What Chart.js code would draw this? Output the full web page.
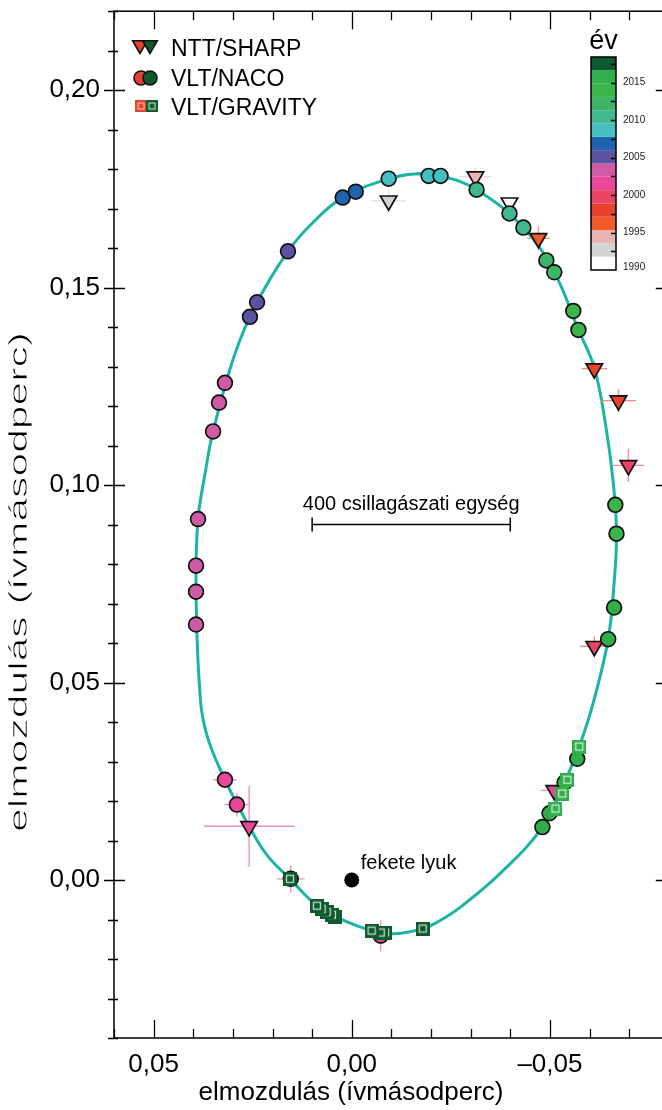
<!DOCTYPE html>
<html lang="hu">
<head>
<meta charset="utf-8">
<title>Az S2 csillag pályája</title>
<script src="https://cdn.jsdelivr.net/npm/chart.js@4.4.1/dist/chart.umd.min.js"></script>
<style>
    html, body { margin: 0; padding: 0; background: #fff; overflow: hidden; }
    canvas { display: block; }
</style>
</head>
<body>
<canvas id="palyaGrafikon" width="680" height="1110"></canvas>
<script>
// Illesztett pálya, a képről leolvasott pontok (ívmásodperc)
const orbitX = [-0.0224, -0.0159, -0.0093, 0.0023, 0.0098, 0.0161, 0.0239, 0.0295, 0.0350, 0.0370, 0.0388, 0.0393, 0.0385, 0.0368, 0.0320, 0.0259, 0.0214, 0.0156, 0.0088, 0.0035, -0.0050, -0.0108, -0.0179, -0.0222, -0.0275, -0.0378, -0.0481, -0.0537, -0.0574, -0.0610, -0.0647, -0.0662, -0.0668, -0.0660, -0.0640, -0.0612, -0.0572, -0.0511, -0.0433, -0.0315, -0.0224, -0.0159, -0.0093];
const orbitY = [0.1783, 0.1788, 0.1776, 0.1728, 0.1665, 0.1592, 0.1463, 0.1332, 0.1136, 0.1030, 0.0914, 0.0753, 0.0501, 0.0375, 0.0254, 0.0136, 0.0063, 0.0003, -0.0065, -0.0096, -0.0128, -0.0136, -0.0123, -0.0103, -0.0068, 0.0020, 0.0134, 0.0247, 0.0338, 0.0451, 0.0610, 0.0753, 0.0877, 0.1005, 0.1156, 0.1297, 0.1393, 0.1539, 0.1652, 0.1748, 0.1783, 0.1788, 0.1776];

// VLT/NACO (körök)
const nacoX = [-0.0073, 0.0154, 0.0290, 0.0320, 0.0393, 0.0393, 0.0393, 0.0388, 0.0350, 0.0335, 0.0320, 0.0257, 0.0239, 0.0161, 0.0023, -0.0010, -0.0093, -0.0194, -0.0224, -0.0315, -0.0398, -0.0433, -0.0491, -0.0511, -0.0559, -0.0572, -0.0665, -0.0668, -0.0662, -0.0647, -0.0569, -0.0537, -0.0499, -0.0481];
const nacoY = [-0.0141, 0.0003, 0.0191, 0.0254, 0.0647, 0.0730, 0.0796, 0.0914, 0.1136, 0.1209, 0.1259, 0.1426, 0.1463, 0.1592, 0.1728, 0.1743, 0.1776, 0.1783, 0.1783, 0.1748, 0.1688, 0.1652, 0.1569, 0.1539, 0.1441, 0.1393, 0.0950, 0.0877, 0.0690, 0.0610, 0.0307, 0.0247, 0.0169, 0.0134];
const nacoYear = [2002.25, 2002.3, 2002.35, 2002.4, 2002.7, 2003.0, 2003.2, 2003.4, 2003.7, 2003.9, 2004.1, 2004.5, 2005.0, 2005.5, 2006.5, 2007.2, 2008.2, 2008.8, 2009.2, 2010.0, 2010.5, 2011.0, 2011.6, 2012.3, 2013.3, 2013.6, 2014.5, 2014.7, 2015.3, 2015.5, 2016.2, 2016.3, 2016.4, 2016.5];
const nacoErrX = [0.0015, 0.0035, 0.0031, 0.0030, 0, 0, 0, 0, 0, 0, 0, 0, 0, 0, 0, 0, 0, 0, 0, 0, 0, 0, 0, 0, 0, 0, 0, 0, 0, 0, 0, 0, 0, 0];
const nacoErrY = [0.0040, 0.0035, 0.0030, 0.0021, 0, 0, 0, 0, 0, 0, 0, 0, 0, 0, 0, 0, 0, 0, 0, 0, 0, 0, 0, 0, 0, 0, 0, 0, 0, 0, 0, 0, 0, 0];

// NTT/SHARP (háromszögek)
const sharpX = [-0.0398, -0.0093, -0.0312, -0.0471, -0.0612, -0.0673, -0.0698, -0.0612, -0.0511, 0.0259];
const sharpY = [0.1715, 0.1720, 0.1781, 0.1625, 0.1295, 0.1214, 0.1050, 0.0592, 0.0227, 0.0136];
const sharpYear = [1991.0, 1992.6, 1994.5, 1996.2, 1997.9, 1998.4, 1999.5, 2000.3, 2001.5, 2002.2];
const sharpErrX = [0, 0.0044, 0.0040, 0.0028, 0.0032, 0.0045, 0.0040, 0.0036, 0.0034, 0.0115];
const sharpErrY = [0, 0.0031, 0.0022, 0.0031, 0.0020, 0.0029, 0.0042, 0.0025, 0.0008, 0.0103];

// VLT/GRAVITY (négyzetek)
const gravityX = [-0.0574, -0.0544, -0.0531, -0.0514, -0.0179, -0.0084, -0.0073, -0.0050, 0.0043, 0.0050, 0.0063, 0.0076, 0.0088, 0.0156];
const gravityY = [0.0338, 0.0254, 0.0219, 0.0181, -0.0123, -0.0133, -0.0133, -0.0128, -0.0093, -0.0088, -0.0081, -0.0073, -0.0065, 0.0003];
const gravityYear = [2016.4, 2016.45, 2016.5, 2016.55, 2018.2, 2018.25, 2018.26, 2018.27, 2018.3, 2018.31, 2018.32, 2018.33, 2018.34, 2018.4];

const blackHole = { x: 0, y: 0 };

// Színskála (év)
const yearEdges = [1990, 1991.78, 1993.55, 1995.33, 1997.1, 1998.88, 2000.65, 2002.43, 2004.2, 2005.98, 2007.75, 2009.53, 2011.3, 2013.08, 2014.85, 2016.63, 2018.4];
const yearColors = ['#ffffff', '#d2d3d4', '#e8b4b4', '#f15a29', '#e8412e', '#eb4566', '#e9489a', '#cf5ba6', '#5a53a2', '#1f63ae', '#45bfc2', '#40b98f', '#3db566', '#3ab54a', '#30ae4a', '#0d5a2e'];
const yearTicks = [1990, 1995, 2000, 2005, 2010, 2015];

const xLabeled = [0.05, 0, -0.05];
const yLabeled = [0, 0.05, 0.1, 0.15, 0.2];

const FONT = '"Liberation Sans", Arial, Helvetica, sans-serif';
const AXIS_TITLE = 'elmozdulás (ívmásodperc)';

function yearColor(year) {
    for (let i = 0; i < yearColors.length; i++) {
        if (year < yearEdges[i + 1]) return yearColors[i];
    }
    return yearColors[yearColors.length - 1];
}

function lighten(hex, t) {
    const n = parseInt(hex.slice(1), 16);
    const mix = c => Math.round(c + (255 - c) * t);
    return `rgb(${mix(n >> 16)}, ${mix((n >> 8) & 255)}, ${mix(n & 255)})`;
}

function toPoints(xs, ys) {
    return xs.map((x, i) => ({ x: x, y: ys[i] }));
}

function formatTick(v) {
    return v.toFixed(2).replace('.', ',').replace('-', '\u2013');
}

function isLabeled(v, list) {
    return list.some(t => Math.abs(t - v) < 1e-6);
}

function isMajor(v) {
    return Math.round(v * 100) % 5 === 0;
}

// hibasávok: vonal-adatsor szakaszonként, null a szakaszok között
function errorBars(xs, ys, ex, ey, years) {
    const sets = [];
    xs.forEach((x, i) => {
        if (!ex[i] && !ey[i]) return;
        const y = ys[i];
        sets.push({
            type: 'line',
            data: [
                { x: x - ex[i], y: y }, { x: x + ex[i], y: y },
                { x: x, y: null },
                { x: x, y: y - ey[i] }, { x: x, y: y + ey[i] }
            ],
            borderColor: lighten(yearColor(years[i]), 0.4),
            borderWidth: 1.4,
            pointRadius: 0,
            tension: 0,
            fill: false,
            spanGaps: false,
            order: 8
        });
    });
    return sets;
}

function squareSprite(fill, inner) {
    const c = document.createElement('canvas');
    c.width = 14;
    c.height = 14;
    const g = c.getContext('2d');
    g.fillStyle = fill;
    g.fillRect(0, 0, 14, 14);
    g.strokeStyle = inner;
    g.lineWidth = 1.3;
    g.strokeRect(3.5, 3.5, 7, 7);
    return c;
}

const spriteCache = {};
function spriteFor(color) {
    if (!spriteCache[color]) spriteCache[color] = squareSprite(color, lighten(color, 0.75));
    return spriteCache[color];
}

// tengelykeret; lent/fent befelé, oldalt átnyúló osztások
const frameTicks = {
    id: 'frameTicks',
    afterDraw(chart) {
        const { ctx, chartArea: a, scales: { x, y } } = chart;
        ctx.save();
        ctx.strokeStyle = '#000';
        ctx.lineWidth = 1.5;
        ctx.strokeRect(a.left, a.top, a.right - a.left, a.bottom - a.top);
        ctx.lineWidth = 1.3;
        ctx.beginPath();
        x.ticks.forEach(t => {
            const px = Math.round(x.getPixelForValue(t.value)) + 0.5;
            const len = isMajor(t.value) ? 18 : 9;
            ctx.moveTo(px, a.bottom); ctx.lineTo(px, a.bottom - len);
            ctx.moveTo(px, a.top); ctx.lineTo(px, a.top + len);
        });
        y.ticks.forEach(t => {
            const py = Math.round(y.getPixelForValue(t.value)) + 0.5;
            const major = isMajor(t.value);
            const out = major ? 10 : 6;
            const inn = major ? 11 : 4;
            ctx.moveTo(a.left - out, py); ctx.lineTo(a.left + inn, py);
            ctx.moveTo(a.right + out, py); ctx.lineTo(a.right - inn - 2, py);
        });
        ctx.stroke();
        ctx.restore();
    }
};

function drawTriangle(ctx, cx, cy, r, fill) {
    ctx.beginPath();
    ctx.moveTo(cx, cy + r);
    ctx.lineTo(cx - r * 0.866, cy - r / 2);
    ctx.lineTo(cx + r * 0.866, cy - r / 2);
    ctx.closePath();
    ctx.fillStyle = fill;
    ctx.fill();
    ctx.stroke();
}

function drawCircle(ctx, cx, cy, r, fill) {
    ctx.beginPath();
    ctx.arc(cx, cy, r, 0, Math.PI * 2);
    ctx.fillStyle = fill;
    ctx.fill();
    ctx.stroke();
}

// jelmagyarázat, színskála, feliratok
const overlay = {
    id: 'overlay',
    afterDraw(chart) {
        const { ctx, scales: { x, y } } = chart;
        ctx.save();

        // jelmagyarázat
        ctx.strokeStyle = '#111';
        ctx.lineWidth = 1.6;
        drawTriangle(ctx, 140, 45, 8.5, '#e8412e');
        drawTriangle(ctx, 150, 45, 8.5, '#0d5a2e');
        drawCircle(ctx, 141, 78, 7, '#e8412e');
        drawCircle(ctx, 150, 78, 7, '#0d5a2e');
        ctx.drawImage(squareSprite('#e8412e', '#f6c7c0'), 135, 100, 12, 12);
        ctx.drawImage(squareSprite('#0d5a2e', '#cfe6cf'), 146, 100, 12, 12);

        ctx.fillStyle = '#000';
        ctx.font = '23px ' + FONT;
        ctx.textAlign = 'left';
        ctx.textBaseline = 'alphabetic';
        ctx.fillText('NTT/SHARP', 171, 56);
        ctx.fillText('VLT/NACO', 171, 86);
        ctx.fillText('VLT/GRAVITY', 171, 115);

        // színskála
        const barLeft = 591, barW = 25, barTop = 57, barBottom = 270;
        const y0 = yearEdges[0], y1 = yearEdges[yearEdges.length - 1];
        const yy = yr => barBottom - (yr - y0) / (y1 - y0) * (barBottom - barTop);
        yearColors.forEach((c, i) => {
            const top = yy(yearEdges[i + 1]);
            ctx.fillStyle = c;
            ctx.fillRect(barLeft, top, barW, yy(yearEdges[i]) - top);
        });
        ctx.strokeStyle = '#000';
        ctx.lineWidth = 1.5;
        ctx.strokeRect(barLeft, barTop, barW, barBottom - barTop);
        ctx.beginPath();
        for (let yr = 1992.5; yr < y1; yr += 2.5) {
            const py = Math.round(yy(yr)) + 0.5;
            ctx.moveTo(barLeft + barW, py);
            ctx.lineTo(barLeft + barW - 5, py);
        }
        ctx.stroke();
        ctx.fillStyle = '#222';
        ctx.font = '10px ' + FONT;
        ctx.textBaseline = 'middle';
        yearTicks.forEach(yr => {
            ctx.fillText(String(yr), barLeft + barW + 7, yr === 1990 ? barBottom - 3 : yy(yr));
        });
        ctx.fillStyle = '#000';
        ctx.font = '27px ' + FONT;
        ctx.textAlign = 'center';
        ctx.textBaseline = 'alphabetic';
        ctx.fillText('év', barLeft + barW / 2, 49);

        // léptékvonal: 400 CSE
        const sx0 = x.getPixelForValue(0.01), sx1 = x.getPixelForValue(-0.04);
        const sy = Math.round(y.getPixelForValue(0.0902)) + 0.5;
        ctx.strokeStyle = '#000';
        ctx.lineWidth = 1.5;
        ctx.beginPath();
        ctx.moveTo(sx0, sy); ctx.lineTo(sx1, sy);
        ctx.moveTo(sx0, sy - 7); ctx.lineTo(sx0, sy + 7);
        ctx.moveTo(sx1, sy - 7); ctx.lineTo(sx1, sy + 7);
        ctx.stroke();
        ctx.font = '20px ' + FONT;
        ctx.fillText('400 csillagászati egység', (sx0 + sx1) / 2, sy - 15);

        // fekete lyuk felirat
        ctx.textAlign = 'left';
        ctx.font = '20px ' + FONT;
        ctx.fillText('fekete lyuk', x.getPixelForValue(blackHole.x) + 9, y.getPixelForValue(blackHole.y) - 11);

        // tengelyfeliratok
        ctx.textAlign = 'center';
        ctx.font = '26px ' + FONT;
        ctx.fillText(AXIS_TITLE, 351, 1100);
        ctx.translate(27, 582);
        ctx.rotate(-Math.PI / 2);
        ctx.scale(1.64, 1);
        ctx.fillText(AXIS_TITLE, 0, 0);
        // a nyújtott felirat vékonyítása
        ctx.strokeStyle = '#fff';
        ctx.lineWidth = 0.7;
        ctx.strokeText(AXIS_TITLE, 0, 0);

        ctx.restore();
    }
};

const datasets = [
    {
        label: 'pálya',
        type: 'line',
        data: toPoints(orbitX, orbitY),
        borderColor: '#1db4a6',
        borderWidth: 3,
        pointRadius: 0,
        tension: 0.4,
        fill: false,
        order: 10
    },
    ...errorBars(sharpX, sharpY, sharpErrX, sharpErrY, sharpYear),
    ...errorBars(nacoX, nacoY, nacoErrX, nacoErrY, nacoYear),
    {
        label: 'NTT/SHARP',
        type: 'scatter',
        data: toPoints(sharpX, sharpY),
        pointStyle: 'triangle',
        pointRotation: 180,
        pointRadius: 9.5,
        pointBackgroundColor: sharpYear.map(yearColor),
        pointBorderColor: '#111',
        pointBorderWidth: 1.7,
        order: 6
    },
    {
        label: 'VLT/NACO',
        type: 'scatter',
        data: toPoints(nacoX, nacoY),
        pointStyle: 'circle',
        pointRadius: 7.4,
        pointBackgroundColor: nacoYear.map(yearColor),
        pointBorderColor: '#111',
        pointBorderWidth: 1.7,
        order: 5
    },
    {
        label: 'fekete lyuk',
        type: 'scatter',
        data: [blackHole],
        pointStyle: 'circle',
        pointRadius: 7.5,
        pointBackgroundColor: '#000',
        pointBorderColor: '#000',
        pointBorderWidth: 0,
        order: 3
    },
    {
        label: 'VLT/GRAVITY',
        type: 'scatter',
        data: toPoints(gravityX, gravityY),
        pointStyle: gravityYear.map(yr => spriteFor(yearColor(yr))),
        pointRadius: 7,
        order: 1
    }
];

Chart.defaults.font.family = FONT;
Chart.defaults.color = '#000';

new Chart(document.getElementById('palyaGrafikon'), {
    type: 'scatter',
    data: { datasets: datasets },
    options: {
        responsive: false,
        animation: false,
        devicePixelRatio: 1,
        events: [],
        layout: { padding: { top: 6, right: 10, left: 0, bottom: 0 } },
        plugins: {
            legend: { display: false },
            tooltip: { enabled: false }
        },
        scales: {
            x: {
                type: 'linear',
                min: -0.08,
                max: 0.06,
                reverse: true,
                grid: { display: false, drawTicks: false },
                border: { display: false },
                ticks: {
                    stepSize: 0.01,
                    maxTicksLimit: 100,
                    autoSkip: false,
                    maxRotation: 0,
                    padding: 11,
                    font: { size: 26 },
                    callback: v => isLabeled(v, xLabeled) ? formatTick(v) : ''
                },
                afterFit: scale => {
                    scale.height = 72;
                    scale.paddingLeft = 0;
                    scale.paddingRight = 0;
                }
            },
            y: {
                type: 'linear',
                min: -0.04,
                max: 0.22,
                grid: { display: false, drawTicks: false },
                border: { display: false },
                ticks: {
                    stepSize: 0.01,
                    maxTicksLimit: 100,
                    autoSkip: false,
                    padding: 14,
                    font: { size: 26 },
                    callback: v => isLabeled(v, yLabeled) ? formatTick(v) : ''
                },
                afterFit: scale => {
                    scale.width = 114;
                    scale.paddingTop = 0;
                    scale.paddingBottom = 0;
                }
            }
        }
    },
    plugins: [frameTicks, overlay]
});
</script>
</body>
</html>
